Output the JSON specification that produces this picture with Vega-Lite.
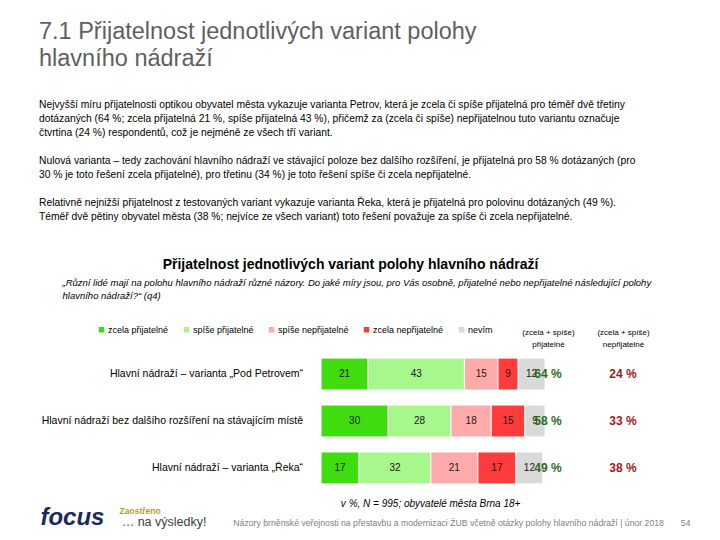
{
  "$schema": "https://vega.github.io/schema/vega-lite/v6.json",
  "padding": {"left": 39, "top": 20, "right": 0, "bottom": 0},
  "background": "white",
  "config": {"font": "Liberation Sans", "view": {"stroke": null}},
  "title": {
    "text": ["7.1 Přijatelnost jednotlivých variant polohy", "hlavního nádraží"],
    "anchor": "start",
    "fontSize": 23.5,
    "fontWeight": "normal",
    "color": "#5f5f5f",
    "lineHeight": 27,
    "subtitle": [
      "Nejvyšší míru přijatelnosti optikou obyvatel města vykazuje varianta Petrov, která je zcela či spíše přijatelná pro téměř dvě třetiny",
      "dotázaných (64 %; zcela přijatelná 21 %, spíše přijatelná 43 %), přičemž za (zcela či spíše) nepřijatelnou tuto variantu označuje",
      "čtvrtina (24 %) respondentů, což je nejméně ze všech tří variant.",
      "\u200b",
      "Nulová varianta – tedy zachování hlavního nádraží ve stávající poloze bez dalšího rozšíření, je přijatelná pro 58 % dotázaných (pro",
      "30 % je toto řešení zcela přijatelné), pro třetinu (34 %) je toto řešení spíše či zcela nepřijatelné.",
      "\u200b",
      "Relativně nejnižší přijatelnost z testovaných variant vykazuje varianta Řeka, která je přijatelná pro polovinu dotázaných (49 %).",
      "Téměř dvě pětiny obyvatel města (38 %; nejvíce ze všech variant) toto řešení považuje za spíše či zcela nepřijatelné."
    ],
    "subtitleFontSize": 10.3,
    "subtitleColor": "#000000",
    "subtitleLineHeight": 14,
    "subtitlePadding": 29,
    "offset": 36
  },
  "datasets": {
    "odpovedi": [
      {"varianta": "Hlavní nádraží – varianta „Pod Petrovem“", "odpoved": "zcela přijatelné", "k": 1, "hodnota": 21},
      {"varianta": "Hlavní nádraží – varianta „Pod Petrovem“", "odpoved": "spíše přijatelné", "k": 2, "hodnota": 43},
      {"varianta": "Hlavní nádraží – varianta „Pod Petrovem“", "odpoved": "spíše nepřijatelné", "k": 3, "hodnota": 15},
      {"varianta": "Hlavní nádraží – varianta „Pod Petrovem“", "odpoved": "zcela nepřijatelné", "k": 4, "hodnota": 9},
      {"varianta": "Hlavní nádraží – varianta „Pod Petrovem“", "odpoved": "nevím", "k": 5, "hodnota": 12},
      {"varianta": "Hlavní nádraží bez dalšího rozšíření na stávajícím místě", "odpoved": "zcela přijatelné", "k": 1, "hodnota": 30},
      {"varianta": "Hlavní nádraží bez dalšího rozšíření na stávajícím místě", "odpoved": "spíše přijatelné", "k": 2, "hodnota": 28},
      {"varianta": "Hlavní nádraží bez dalšího rozšíření na stávajícím místě", "odpoved": "spíše nepřijatelné", "k": 3, "hodnota": 18},
      {"varianta": "Hlavní nádraží bez dalšího rozšíření na stávajícím místě", "odpoved": "zcela nepřijatelné", "k": 4, "hodnota": 15},
      {"varianta": "Hlavní nádraží bez dalšího rozšíření na stávajícím místě", "odpoved": "nevím", "k": 5, "hodnota": 9},
      {"varianta": "Hlavní nádraží – varianta „Řeka“", "odpoved": "zcela přijatelné", "k": 1, "hodnota": 17},
      {"varianta": "Hlavní nádraží – varianta „Řeka“", "odpoved": "spíše přijatelné", "k": 2, "hodnota": 32},
      {"varianta": "Hlavní nádraží – varianta „Řeka“", "odpoved": "spíše nepřijatelné", "k": 3, "hodnota": 21},
      {"varianta": "Hlavní nádraží – varianta „Řeka“", "odpoved": "zcela nepřijatelné", "k": 4, "hodnota": 17},
      {"varianta": "Hlavní nádraží – varianta „Řeka“", "odpoved": "nevím", "k": 5, "hodnota": 12}
    ],
    "souhrn": [
      {"varianta": "Hlavní nádraží – varianta „Pod Petrovem“", "prijatelne": 64, "neprijatelne": 24},
      {"varianta": "Hlavní nádraží bez dalšího rozšíření na stávajícím místě", "prijatelne": 58, "neprijatelne": 33},
      {"varianta": "Hlavní nádraží – varianta „Řeka“", "prijatelne": 49, "neprijatelne": 38}
    ]
  },
  "vconcat": [
    {
      "width": 651,
      "height": 138,
      "title": {
        "text": "Přijatelnost jednotlivých variant polohy hlavního nádraží",
        "fontSize": 14,
        "fontWeight": "bold",
        "color": "#000000",
        "anchor": "middle",
        "dx": -14,
        "offset": 5
      },
      "resolve": {"axis": {"x": "independent"}},
      "layer": [
        {
          "data": {"name": "odpovedi"},
          "mark": {"type": "bar", "stroke": "white", "strokeWidth": 1},
          "encoding": {
            "y": {
              "field": "varianta", "type": "nominal", "axis": null,
              "scale": {
                "domain": ["Hlavní nádraží – varianta „Pod Petrovem“", "Hlavní nádraží bez dalšího rozšíření na stávajícím místě", "Hlavní nádraží – varianta „Řeka“"],
                "paddingInner": 0.32, "paddingOuter": 0.13
              }
            },
            "x": {
              "field": "hodnota", "type": "quantitative", "stack": "zero",
              "scale": {"domain": [-125.9, 164.7], "nice": false, "zero": false},
              "axis": {
                "orient": "top",
                "values": [101.3, 134.8],
                "labelExpr": "datum.value < 120 ? ['(zcela + spíše)', 'přijatelné'] : ['(zcela + spíše)', 'nepřijatelné']",
                "labelFontSize": 8,
                "labelLineHeight": 12,
                "labelColor": "#000000",
                "labelPadding": 16,
                "ticks": false,
                "domain": false,
                "grid": false,
                "title": ["„Různí lidé mají na polohu hlavního nádraží různé názory. Do jaké míry jsou, pro Vás osobně, přijatelné nebo nepřijatelné následující polohy", "hlavního nádraží?“ (q4)"],
                "titleFontSize": 9.5,
                "titleFontStyle": "italic",
                "titleFontWeight": "normal",
                "titleColor": "#000000",
                "titleAnchor": "start",
                "titleAlign": "left",
                "titleX": 23,
                "titlePadding": 28,
                "titleLineHeight": 13
              }
            },
            "color": {
              "field": "odpoved", "type": "nominal",
              "scale": {
                "domain": ["zcela přijatelné", "spíše přijatelné", "spíše nepřijatelné", "zcela nepřijatelné", "nevím"],
                "range": ["#40DC10", "#A6F78C", "#FFABAB", "#FF3B3B", "#D9D9D9"]
              },
              "legend": {
                "orient": "none", "legendX": 58, "legendY": -27,
                "direction": "horizontal", "title": null,
                "symbolType": "square", "symbolSize": 30, "symbolStrokeWidth": 0,
                "labelFontSize": 9, "labelColor": "#000000", "columnPadding": 13, "labelOffset": 2
              }
            },
            "order": {"field": "k", "type": "quantitative"}
          }
        },
        {
          "data": {"name": "odpovedi"},
          "mark": {"type": "text", "fontSize": 10, "color": "#1a1a1a"},
          "encoding": {
            "y": {"field": "varianta", "type": "nominal"},
            "x": {
              "field": "hodnota", "type": "quantitative", "stack": "zero", "bandPosition": 0.5,
              "axis": {
                "orient": "bottom",
                "values": [-111.2, -81, -70.3, 48.7],
                "labelExpr": "datum.value < -100 ? 'focus' : datum.value < -75 ? 'Zaostřeno' : datum.value < 0 ? '… na výsledky!' : 'v %, N = 995; obyvatelé města Brna 18+'",
                "labelFontSize": {"condition": [{"test": "datum.value < -100", "value": 24}, {"test": "datum.value < -75", "value": 8.5}, {"test": "datum.value < 0", "value": 12.5}], "value": 10},
                "labelFontWeight": {"condition": {"test": "datum.value < -75", "value": "bold"}, "value": "normal"},
                "labelFontStyle": {"condition": {"test": "datum.value < -100 || datum.value > 0", "value": "italic"}, "value": "normal"},
                "labelColor": {"condition": [{"test": "datum.value < -100", "value": "#1c2b5e"}, {"test": "datum.value < -75", "value": "#b5a21a"}, {"test": "datum.value < 0", "value": "#404040"}], "value": "#000000"},
                "labelPadding": {"condition": [{"test": "datum.value < -100", "value": 15}, {"test": "datum.value < -75", "value": 16}, {"test": "datum.value < 0", "value": 25}], "value": 8},
                "labelOverlap": false,
                "labelFlush": false,
                "ticks": false,
                "domain": false,
                "grid": false,
                "title": "Názory brněnské veřejnosti na přestavbu a modernizaci ŽUB včetně otázky polohy hlavního nádraží | únor 2018\u00a0\u00a0\u00a0\u00a0\u00a0\u00a0 54",
                "titleFontSize": 8.7,
                "titleFontWeight": "normal",
                "titleColor": "#808080",
                "titleAnchor": "end",
                "titleBaseline": "middle",
                "titleY": 32
              }
            },
            "text": {"field": "hodnota", "type": "quantitative"},
            "order": {"field": "k", "type": "quantitative"}
          }
        },
        {
          "data": {"name": "souhrn"},
          "mark": {"type": "text", "align": "right", "fontSize": 10.5, "color": "#000000"},
          "encoding": {
            "y": {"field": "varianta", "type": "nominal"},
            "x": {"datum": -8, "type": "quantitative", "axis": null},
            "text": {"field": "varianta", "type": "nominal"}
          }
        },
        {
          "data": {"name": "souhrn"},
          "transform": [{"calculate": "datum.prijatelne + ' %'", "as": "popisek"}],
          "mark": {"type": "text", "fontSize": 12, "fontWeight": "bold", "color": "#2B6A1E"},
          "encoding": {
            "y": {"field": "varianta", "type": "nominal"},
            "x": {"datum": 101.3, "type": "quantitative", "axis": null},
            "text": {"field": "popisek", "type": "nominal"}
          }
        },
        {
          "data": {"name": "souhrn"},
          "transform": [{"calculate": "datum.neprijatelne + ' %'", "as": "popisek"}],
          "mark": {"type": "text", "fontSize": 12, "fontWeight": "bold", "color": "#9B1C1C"},
          "encoding": {
            "y": {"field": "varianta", "type": "nominal"},
            "x": {"datum": 134.8, "type": "quantitative", "axis": null},
            "text": {"field": "popisek", "type": "nominal"}
          }
        }
      ]
    }
  ]
}
